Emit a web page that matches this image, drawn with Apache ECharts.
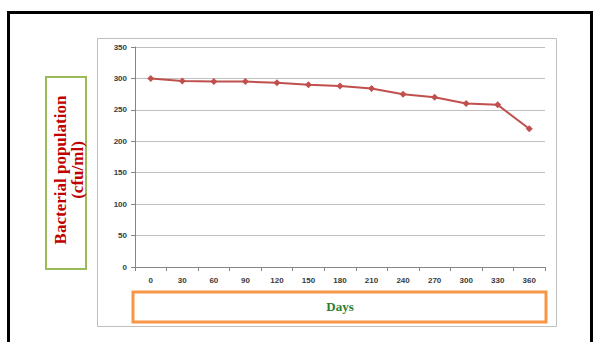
<!DOCTYPE html>
<html>
<head>
<meta charset="utf-8">
<script src="https://cdn.jsdelivr.net/npm/echarts@6/dist/echarts.min.js"></script>
<style>
html,body{margin:0;padding:0;background:#fff;}
#chart{width:595px;height:342px;}
</style>
</head>
<body>
<div id="chart"></div>
<script>
const days = ['0','30','60','90','120','150','180','210','240','270','300','330','360'];
const population = [300, 296, 295, 295, 293, 290, 288, 284, 275, 270, 260, 258, 220];
const yTicks = {min: 0, max: 350, interval: 50};
const yTitleLines = ['Bacterial population', '(cfu/ml)'];
const xTitle = 'Days';

const chart = echarts.init(document.getElementById('chart'), null, {renderer: 'svg'});
const tickFont = {fontFamily: 'Liberation Sans', fontWeight: 'bold', fontSize: 8, color: '#3a3a3a'};
chart.setOption({
  animation: false,
  backgroundColor: '#ffffff',
  grid: {left: 135, top: 47, right: 50, bottom: 75, containLabel: false},
  xAxis: {
    type: 'category',
    data: days,
    boundaryGap: true,
    axisLine: {lineStyle: {color: '#868686', width: 1}},
    axisTick: {show: true, length: 4, interval: 0, lineStyle: {color: '#868686'}},
    axisLabel: Object.assign({margin: 9, interval: 0}, tickFont),
    splitLine: {show: false}
  },
  yAxis: {
    type: 'value',
    min: yTicks.min, max: yTicks.max, interval: yTicks.interval,
    axisLine: {show: true, lineStyle: {color: '#868686', width: 1}},
    axisTick: {show: true, length: 4, lineStyle: {color: '#868686'}},
    axisLabel: Object.assign({margin: 8}, tickFont),
    splitLine: {show: true, lineStyle: {color: '#bfbfbf', width: 1}}
  },
  series: [{
    type: 'line',
    data: population,
    symbol: 'diamond',
    symbolSize: 7,
    itemStyle: {color: '#c0504d'},
    lineStyle: {color: '#c0504d', width: 2}
  }],
  graphic: [
    {type: 'rect', z: -10, shape: {x: 8.5, y: 12.5, width: 583, height: 400},
     style: {fill: 'none', stroke: '#000000', lineWidth: 3}},
    {type: 'rect', z: -9, shape: {x: 97.5, y: 38.5, width: 459, height: 288},
     style: {fill: 'none', stroke: '#bfbfbf', lineWidth: 1}},
    {type: 'rect', shape: {x: 46, y: 77, width: 40, height: 192},
     style: {fill: '#ffffff', stroke: '#9bbb59', lineWidth: 2}},
    {type: 'text', x: 60, y: 170, rotation: Math.PI / 2,
     style: {text: yTitleLines[0], fontFamily: 'Liberation Serif', fontWeight: 'bold', fontSize: 17,
             fill: '#c00000', textAlign: 'center', textVerticalAlign: 'middle'}},
    {type: 'text', x: 77, y: 170, rotation: Math.PI / 2,
     style: {text: yTitleLines[1], fontFamily: 'Liberation Serif', fontWeight: 'bold', fontSize: 17,
             fill: '#c00000', textAlign: 'center', textVerticalAlign: 'middle'}},
    {type: 'rect', shape: {x: 133, y: 292, width: 413, height: 30},
     style: {fill: '#ffffff', stroke: '#f79646', lineWidth: 3}},
    {type: 'text', x: 340, y: 306,
     style: {text: xTitle, fontFamily: 'Liberation Serif', fontWeight: 'bold', fontSize: 13,
             fill: '#2e7d32', textAlign: 'center', textVerticalAlign: 'middle'}}
  ]
});
</script>
</body>
</html>
